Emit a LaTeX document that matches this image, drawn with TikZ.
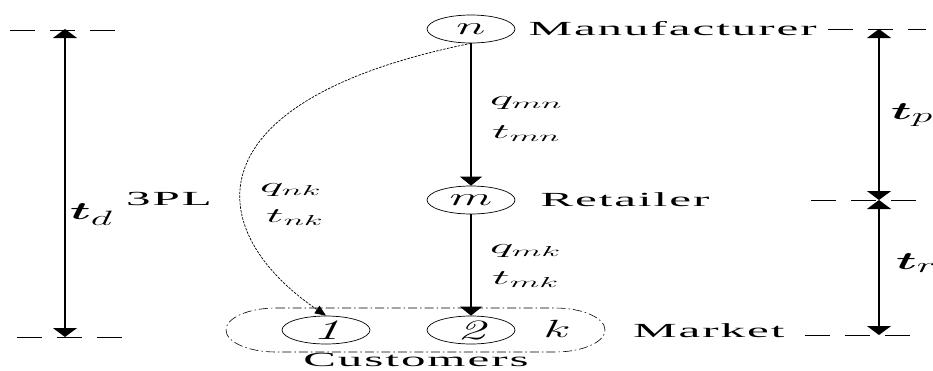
\documentclass[tikz,border=0pt]{standalone}
\usepackage{fontspec}
\usepackage{amsmath}
\usepackage{bm}
\usepackage{tikz}
\usetikzlibrary{arrows.meta, shapes.geometric}
\usetikzlibrary{positioning}

\newfontfamily\rolefont[LetterSpace=4]{Liberation Serif}
\newcommand{\wrole}[1]{\scalebox{2.45}[1]{#1}}
\newcommand{\wsym}[1]{\scalebox{2}[1]{$#1$}}
\newcommand{\wlab}[1]{\scalebox{2.4}[1]{$#1$}}

\tikzset{
  place/.style={ellipse, draw, line width=0.7pt, inner sep=0pt,
    minimum width=88pt, minimum height=28pt, font=\fontsize{28}{28}\selectfont},
  role/.style={inner sep=0pt, font=\rolefont\fontsize{20}{20}\selectfont},
  lbl/.style={inner sep=0pt, anchor=west, font=\fontsize{21}{21}\selectfont},
  dimlbl/.style={inner sep=0pt, anchor=west, font=\fontsize{28}{28}\selectfont},
  flow/.style={line width=1.1pt, -{Triangle[width=22pt,length=9pt]}},
  dimline/.style={line width=1.1pt,
    {Triangle[width=24pt,length=9pt]}-{Triangle[width=24pt,length=9pt]}},
  guide/.style={line width=0.8pt, dash pattern=on 25pt off 15pt},
  direct/.style={line width=0.7pt, dash pattern=on 2.5pt off 1.2pt,
    -{Triangle[width=9pt,length=11pt]}},
  group/.style={line width=0.6pt, dash pattern=on 9pt off 3pt on 1.5pt off 3pt}
}

\begin{document}
\begin{tikzpicture}[x=1pt, y=-1pt, >=Latex]

\useasboundingbox (0,0) rectangle (933,370);
\clip (0,0) rectangle (933,370);

% -------------------------------------------------------
% 1. Customer group (market)
% -------------------------------------------------------
\draw[group] (276,308) -- (555,308)
  arc[start angle=-90, end angle=90, x radius=50, y radius=22]
  -- (276,352)
  arc[start angle=90, end angle=270, x radius=50, y radius=22] -- cycle;

% -------------------------------------------------------
% 2. Members of the chain
% -------------------------------------------------------
\node[place] (n) at (471,29) {\wsym{n}};
\node[place] (m) at (471,200) {\wsym{m}};
\node[place] (c1) at (326,330) {\wsym{\mathit{1}}};
\node[place] (c2) at (471,330) {\wsym{\mathit{2}}};
\node[inner sep=0pt, font=\fontsize{28}{28}\selectfont] (k) at (557,329) {\wsym{k}};

\node[role, right=13pt of n] (manu) {\wrole{Manufacturer}};
\node[role, right=25pt of m] (reta) {\wrole{Retailer}};
\node[role, anchor=west] (mark) at (633,331) {\wrole{Market}};
\node[role, anchor=base] (cust) at (416,366) {\wrole{Customers}};
\node[role] (tpl) at (169,199) {\wrole{3PL}};

% -------------------------------------------------------
% 3. Flows of goods
% -------------------------------------------------------
\draw[flow] (n.south) -- (m.north);
\draw[flow] (m.south) -- (c2.north);
\draw[direct] (n.south) .. controls (190,100) and (200,230) .. (c1.north);

\node[lbl] (qmn) at (490,103) {\wlab{q_{mn}}};
\node[lbl] (tmn) at (492,134) {\wlab{t_{mn}}};
\node[lbl] (qmk) at (490,251) {\wlab{q_{mk}}};
\node[lbl] (tmk) at (492,280) {\wlab{t_{mk}}};
\node[lbl] (qnk) at (260,190) {\wlab{q_{nk}}};
\node[lbl] (tnk) at (266,218) {\wlab{t_{nk}}};

% -------------------------------------------------------
% 4. Lead times
% -------------------------------------------------------
\coordinate (dtop) at (65,29);
\coordinate (dbot) at (65,337);
\coordinate (ptop) at (879,29);
\coordinate (pmid) at (879,200);
\coordinate (pbot) at (879,335);

\draw[guide] (10,30) -- (117,30);
\draw[guide] (17,337) -- (122,337);
\draw[guide] (828,29) -- (926,29);
\draw[guide] (811,200) -- (918,200);
\draw[guide] (805,335) -- (911,335);

\draw[dimline] (dtop) -- (dbot);
\draw[dimline] (ptop) -- (pmid);
\draw[dimline] (pmid) -- (pbot);

\node[dimlbl] (td) at (70,215) {\wsym{\bm{t}_d}};
\node[dimlbl] (tp) at (891,115) {\wsym{\bm{t}_p}};
\node[dimlbl] (tr) at (896,263) {\wsym{\bm{t}_r}};

\end{tikzpicture}
\end{document}
